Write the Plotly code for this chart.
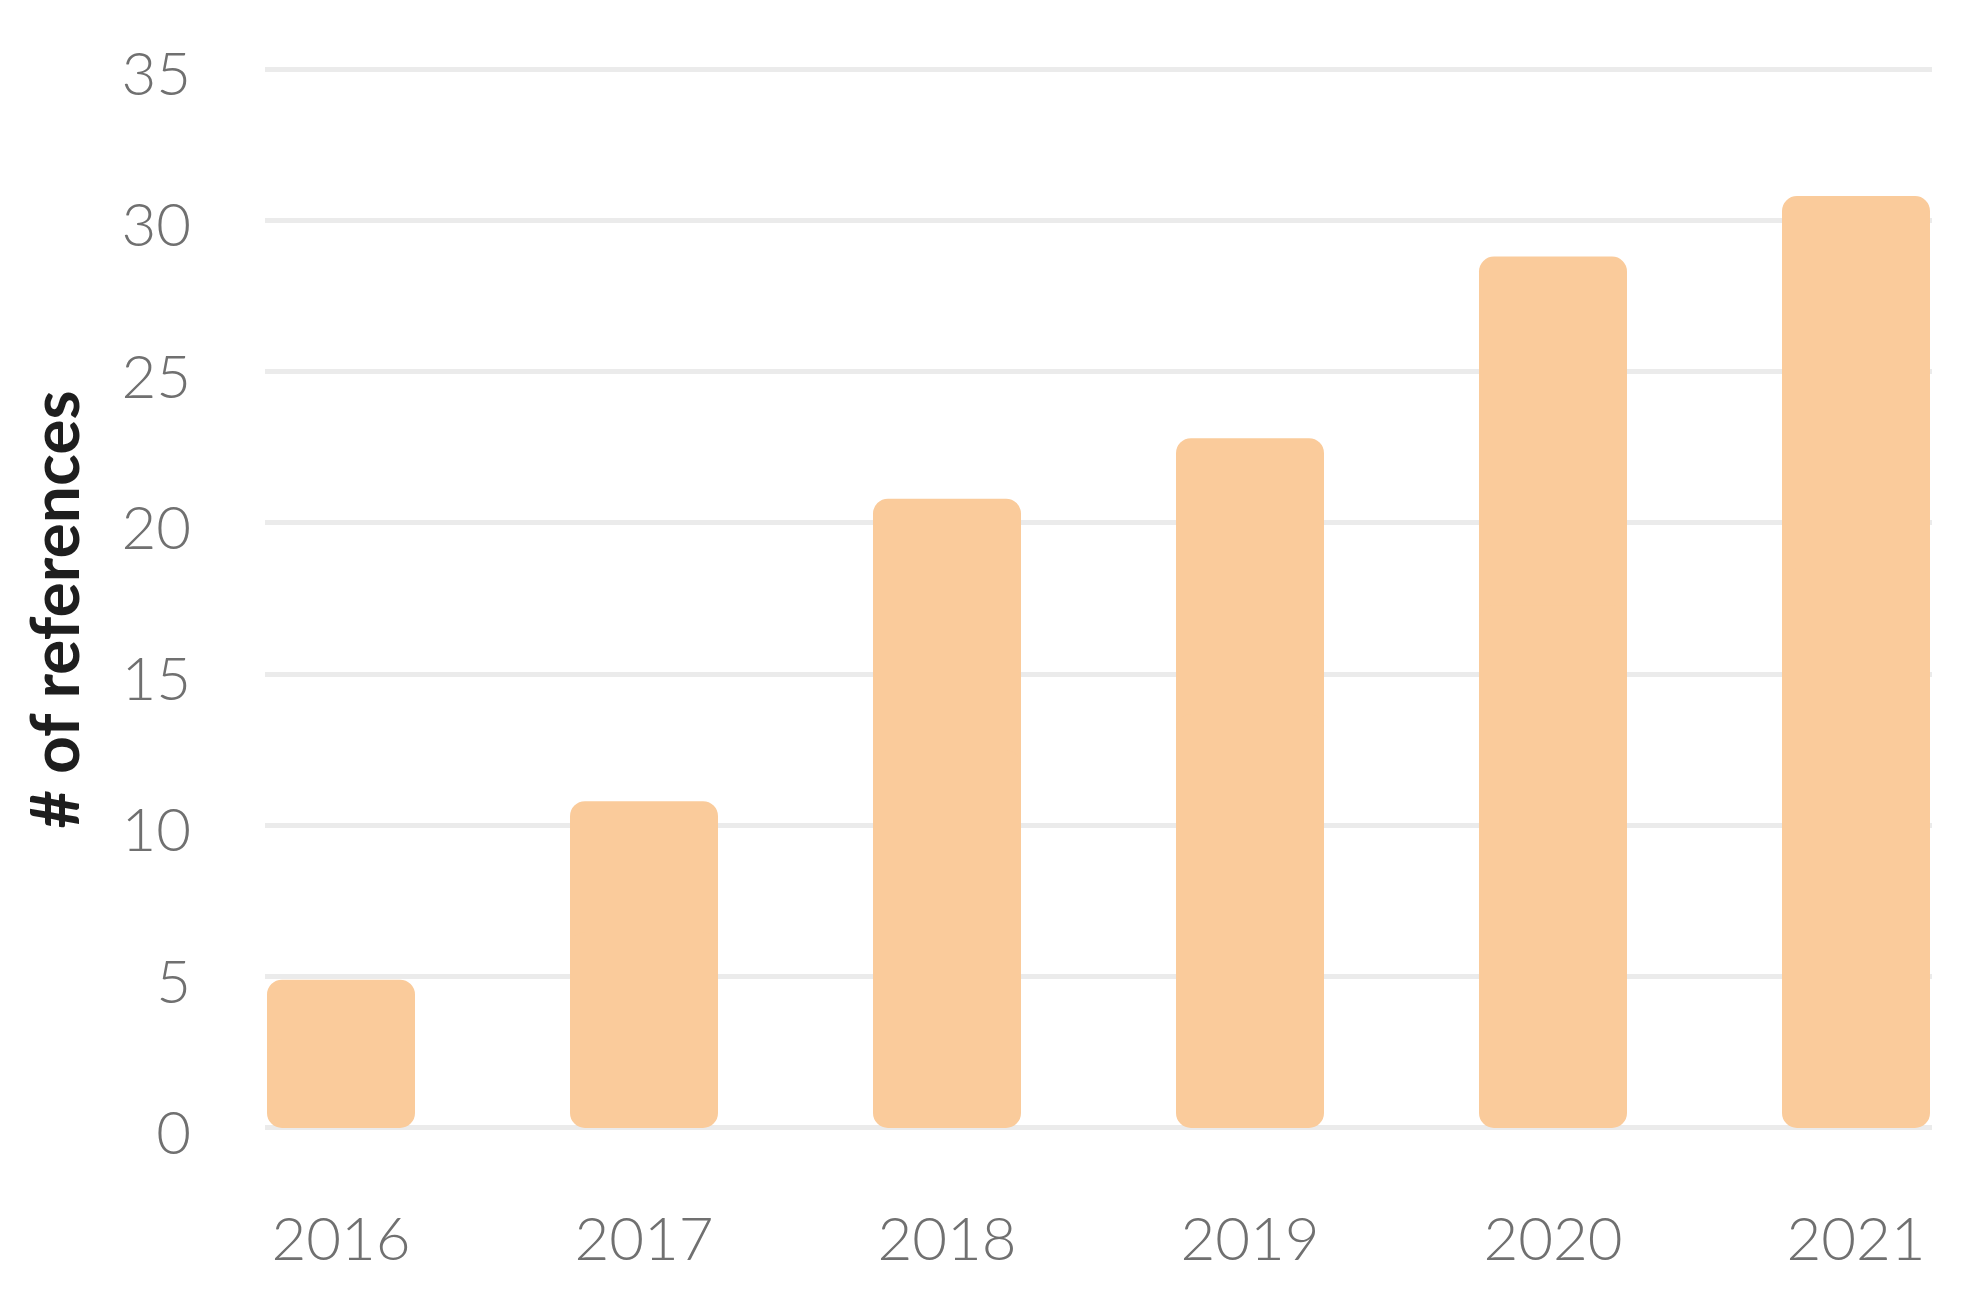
import plotly.graph_objects as go

years = ["2016", "2017", "2018", "2019", "2020", "2021"]
references = [4.9, 10.8, 20.8, 22.8, 28.8, 30.8]
y_ticks = [0, 5, 10, 15, 20, 25, 30, 35]

bar_color = "#FACB9B"
# pixel-aligned geometry: 303 px per category, 148 px bar, 2 px padding
px_per_cat = 303
bar_px = 148
pad_px = 2
bar_width = bar_px / px_per_cat
x_idx = list(range(len(years)))
n = len(years)
plot_w = px_per_cat * (n - 1) + bar_px + 2 * pad_px
x_range = [-(bar_px / 2 + pad_px) / px_per_cat, (n - 1) + (bar_px / 2 + pad_px) / px_per_cat]

L, T, B = 257, 58, 166
W, H = 1957, 1289
R = W - L - plot_w

fig = go.Figure()
# upper part: rounded top corners
fig.add_trace(go.Bar(
    x=x_idx, y=[v * 0.6 for v in references], base=[v * 0.4 for v in references],
    width=bar_width, marker=dict(color=bar_color, cornerradius=15, line=dict(width=0)),
    hoverinfo="skip", showlegend=False,
))
# lower part: rounded bottom corners
fig.add_trace(go.Bar(
    x=x_idx, y=[-v * 0.6 for v in references], base=[v * 0.6 for v in references],
    width=bar_width, marker=dict(color=bar_color, cornerradius=15, line=dict(width=0)),
    customdata=references, hovertemplate="%{customdata}<extra></extra>", showlegend=False,
))

tick_font = dict(family="Lato", size=60, color="#707070", weight=300)

fig.update_layout(
    width=W, height=H,
    barmode="overlay",
    paper_bgcolor="white", plot_bgcolor="white",
    margin=dict(l=L, r=R, t=T, b=B, pad=0),
    xaxis=dict(
        tickmode="array", tickvals=x_idx, ticktext=years,
        range=x_range,
        showgrid=False, zeroline=False, showline=False,
        ticks="", tickfont=tick_font, ticklabelstandoff=68,
    ),
    yaxis=dict(
        tickmode="array", tickvals=y_ticks,
        range=[-0.1, 35.1],
        showgrid=True, gridcolor="#EBEBEB", gridwidth=4.5,
        zeroline=True, zerolinecolor="#EBEBEB", zerolinewidth=4.5,
        showline=False, ticks="", tickfont=tick_font,
        ticklabelstandoff=73, ticklabelshift=5,
    ),
    annotations=[dict(
        text="# of references", textangle=-90,
        xref="paper", yref="paper", x=-0.127, y=0.49,
        xanchor="center", yanchor="middle", showarrow=False,
        font=dict(family="Lato", size=66, color="#1E1E1E", weight="bold"),
    )],
)

fig.write_html("out.html")
